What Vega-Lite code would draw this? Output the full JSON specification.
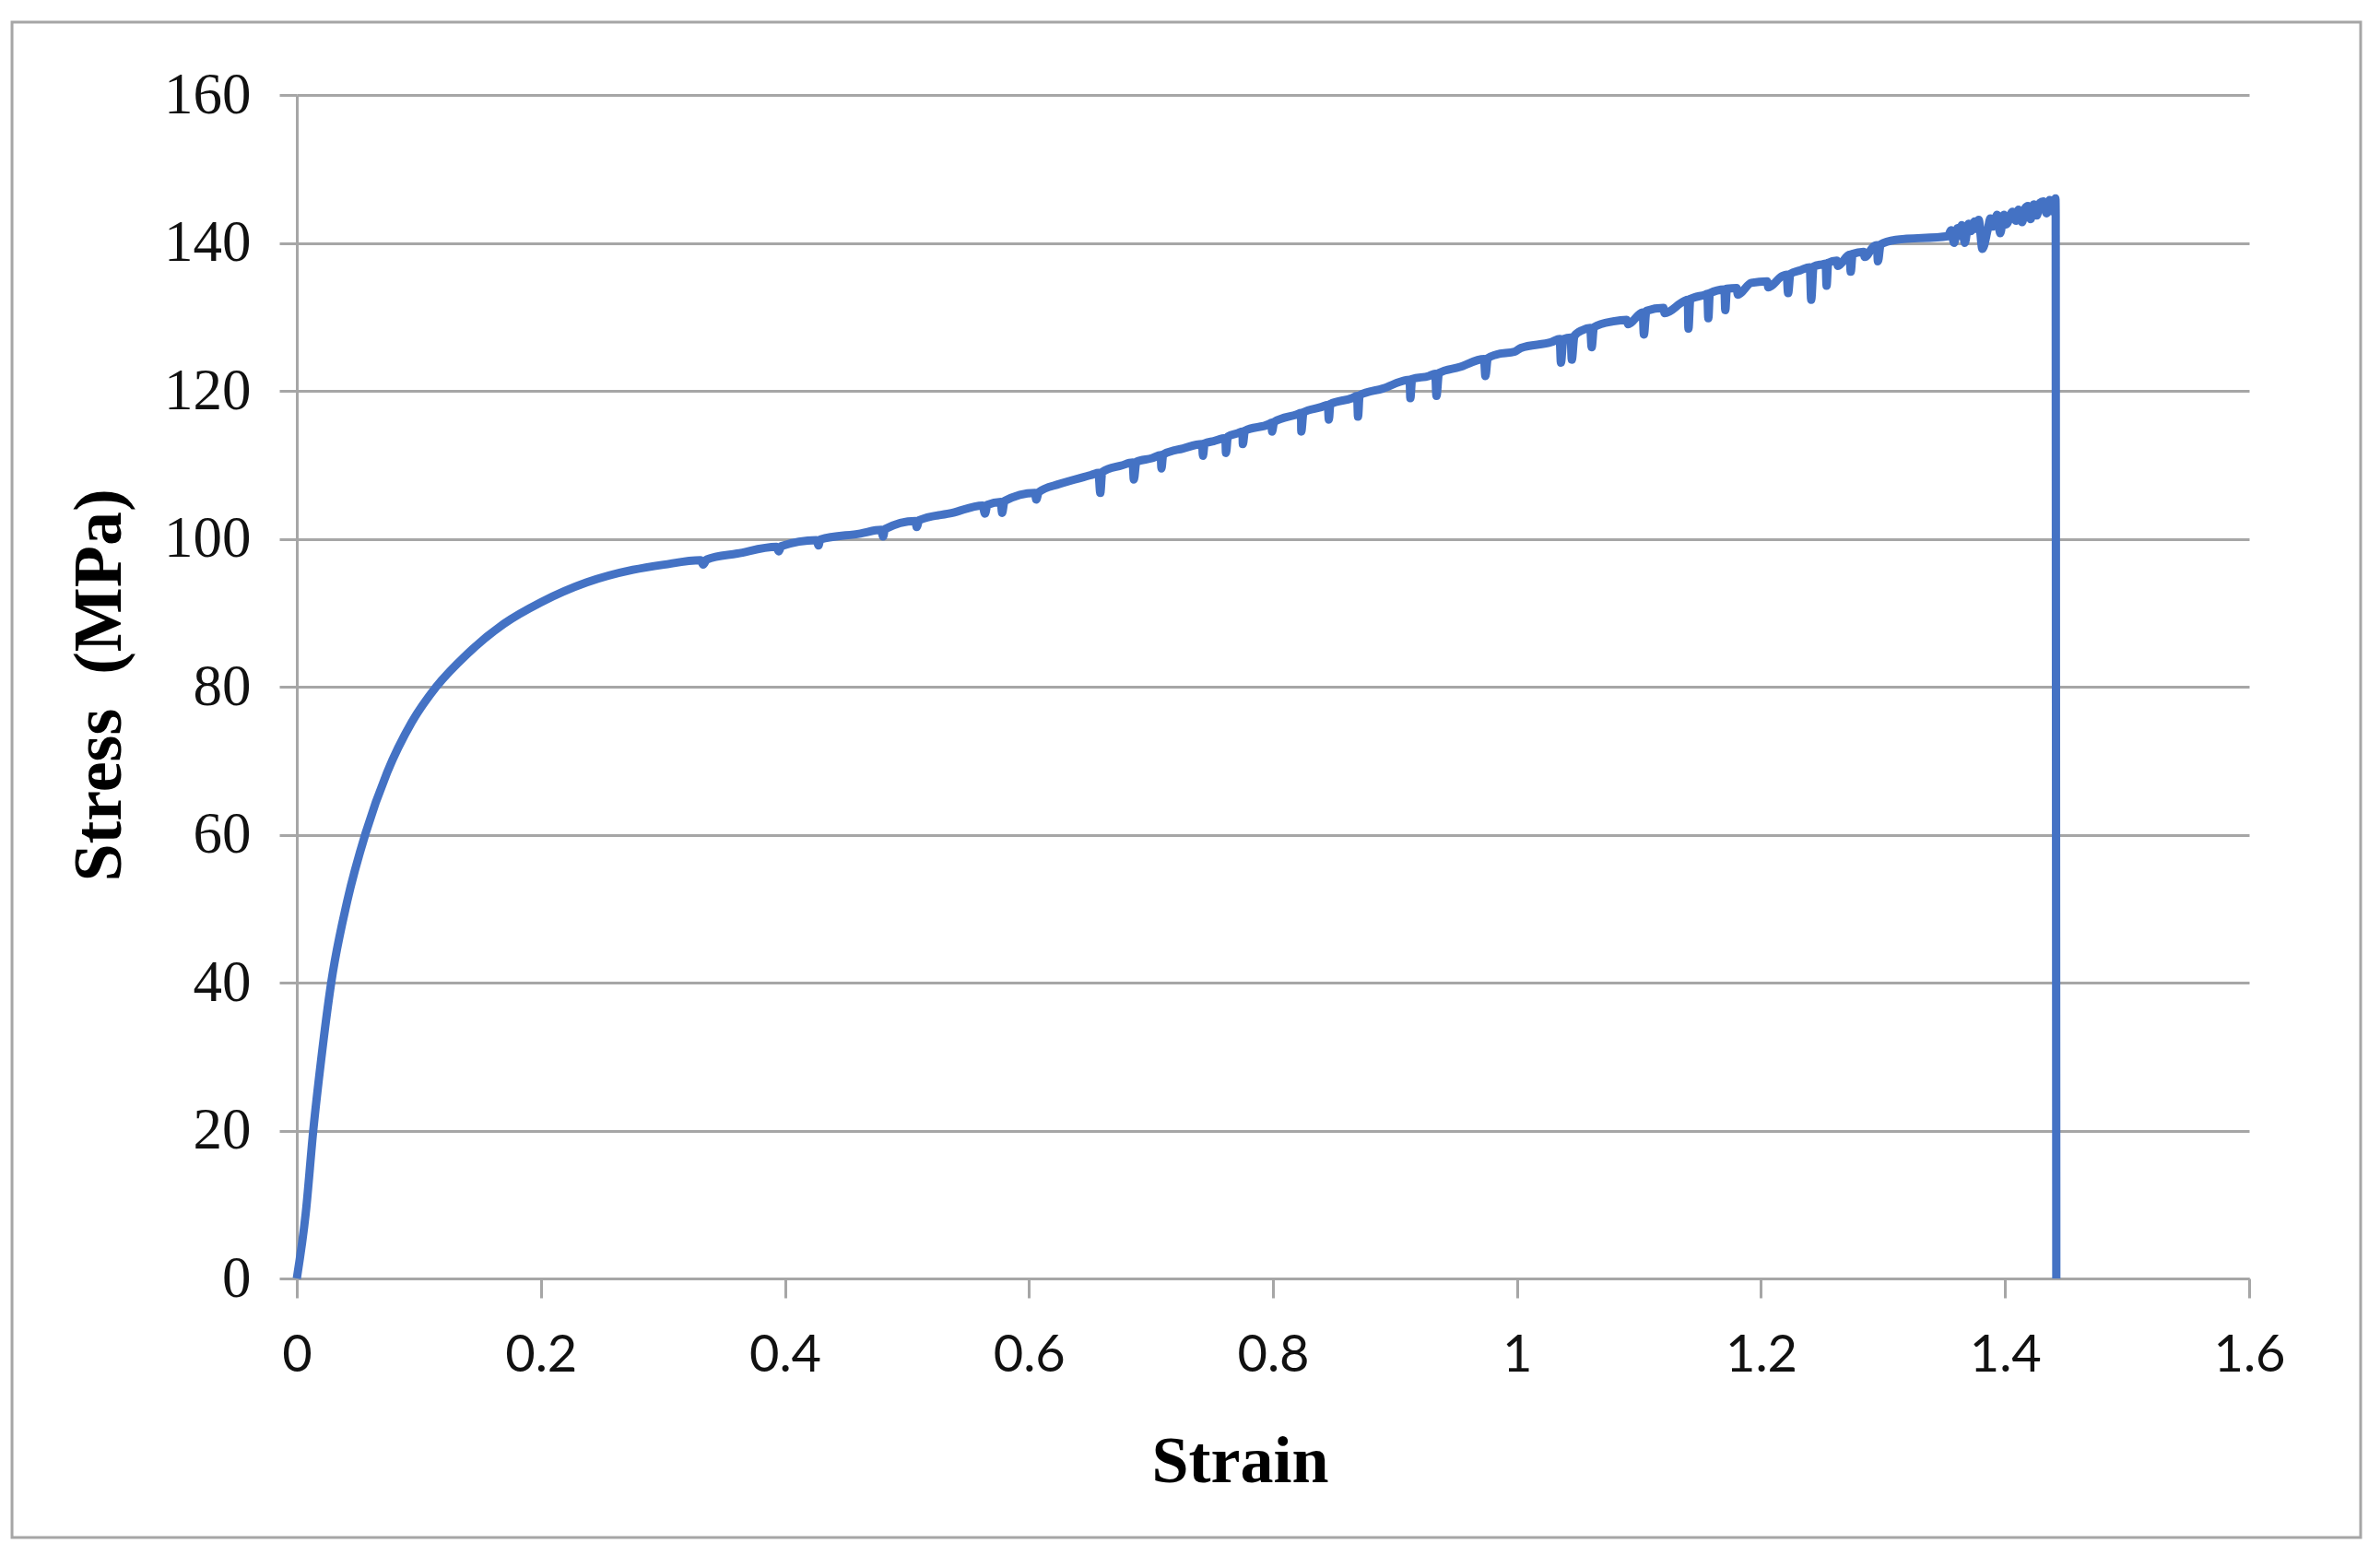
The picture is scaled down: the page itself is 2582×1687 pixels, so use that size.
{
  "$schema": "https://vega.github.io/schema/vega-lite/v6.json",
  "width": 2118,
  "height": 1284,
  "autosize": {"type": "none"},
  "padding": {"left": 322, "top": 103, "right": 142, "bottom": 300},
  "background": "white",
  "config": {"view": {"stroke": null}},
  "layer": [
    {
      "data": {"values": [
        {"strain": 0, "stress": 0}, {"strain": 0.0073, "stress": 8.8}, {"strain": 0.0136, "stress": 20.2}, {"strain": 0.0199, "stress": 29.5},
        {"strain": 0.0282, "stress": 40.0}, {"strain": 0.0413, "stress": 51.0}, {"strain": 0.0564, "stress": 60.2}, {"strain": 0.074, "stress": 68.4},
        {"strain": 0.0942, "stress": 75.2}, {"strain": 0.1143, "stress": 80.0}, {"strain": 0.1395, "stress": 84.4}, {"strain": 0.1697, "stress": 88.5},
        {"strain": 0.2, "stress": 91.4}, {"strain": 0.2377, "stress": 94.1}, {"strain": 0.2755, "stress": 95.8}, {"strain": 0.3007, "stress": 96.5},
        {"strain": 0.331, "stress": 97.1}, {"strain": 0.333, "stress": 96.5}, {"strain": 0.336, "stress": 97.2}, {"strain": 0.361, "stress": 98.0},
        {"strain": 0.393, "stress": 98.9}, {"strain": 0.395, "stress": 98.3}, {"strain": 0.397, "stress": 99.0}, {"strain": 0.426, "stress": 99.8},
        {"strain": 0.4275, "stress": 99.1}, {"strain": 0.429, "stress": 99.9}, {"strain": 0.4618, "stress": 100.7}, {"strain": 0.479, "stress": 101.2},
        {"strain": 0.4805, "stress": 100.3}, {"strain": 0.482, "stress": 101.3}, {"strain": 0.507, "stress": 102.4}, {"strain": 0.508, "stress": 101.6},
        {"strain": 0.51, "stress": 102.5}, {"strain": 0.5373, "stress": 103.5}, {"strain": 0.562, "stress": 104.5}, {"strain": 0.564, "stress": 103.4},
        {"strain": 0.566, "stress": 104.6}, {"strain": 0.577, "stress": 105.0}, {"strain": 0.578, "stress": 103.5}, {"strain": 0.58, "stress": 105.1},
        {"strain": 0.605, "stress": 106.2}, {"strain": 0.606, "stress": 105.3}, {"strain": 0.608, "stress": 106.3}, {"strain": 0.625, "stress": 107.4},
        {"strain": 0.6506, "stress": 108.6}, {"strain": 0.657, "stress": 108.9}, {"strain": 0.6585, "stress": 106.2}, {"strain": 0.66, "stress": 109.0},
        {"strain": 0.6758, "stress": 109.9}, {"strain": 0.685, "stress": 110.3}, {"strain": 0.686, "stress": 108.0}, {"strain": 0.688, "stress": 110.4},
        {"strain": 0.701, "stress": 110.9}, {"strain": 0.708, "stress": 111.3}, {"strain": 0.7086, "stress": 109.5}, {"strain": 0.71, "stress": 111.4},
        {"strain": 0.7262, "stress": 112.2}, {"strain": 0.742, "stress": 112.8}, {"strain": 0.7426, "stress": 111.2}, {"strain": 0.744, "stress": 112.9},
        {"strain": 0.7514, "stress": 113.2}, {"strain": 0.761, "stress": 113.6}, {"strain": 0.7615, "stress": 111.6}, {"strain": 0.763, "stress": 113.8},
        {"strain": 0.7716, "stress": 114.3}, {"strain": 0.775, "stress": 114.5}, {"strain": 0.7753, "stress": 112.8}, {"strain": 0.777, "stress": 114.6},
        {"strain": 0.7967, "stress": 115.5}, {"strain": 0.799, "stress": 115.7}, {"strain": 0.7992, "stress": 114.5}, {"strain": 0.801, "stress": 115.8},
        {"strain": 0.8194, "stress": 116.8}, {"strain": 0.823, "stress": 117.0}, {"strain": 0.8232, "stress": 114.5}, {"strain": 0.825, "stress": 117.1},
        {"strain": 0.8395, "stress": 117.8}, {"strain": 0.845, "stress": 118.1}, {"strain": 0.8458, "stress": 116.1}, {"strain": 0.847, "stress": 118.2},
        {"strain": 0.8647, "stress": 119.0}, {"strain": 0.869, "stress": 119.3}, {"strain": 0.8697, "stress": 116.5}, {"strain": 0.871, "stress": 119.4},
        {"strain": 0.8899, "stress": 120.3}, {"strain": 0.912, "stress": 121.5}, {"strain": 0.9126, "stress": 119.0}, {"strain": 0.914, "stress": 121.6},
        {"strain": 0.9277, "stress": 122.0}, {"strain": 0.933, "stress": 122.3}, {"strain": 0.934, "stress": 119.3}, {"strain": 0.936, "stress": 122.4},
        {"strain": 0.9528, "stress": 123.2}, {"strain": 0.973, "stress": 124.3}, {"strain": 0.9741, "stress": 122.0}, {"strain": 0.976, "stress": 124.4},
        {"strain": 0.983, "stress": 124.9}, {"strain": 0.9982, "stress": 125.3}, {"strain": 1.0032, "stress": 125.8}, {"strain": 1.0284, "stress": 126.6},
        {"strain": 1.035, "stress": 127.0}, {"strain": 1.036, "stress": 123.8}, {"strain": 1.038, "stress": 127.0}, {"strain": 1.044, "stress": 127.2},
        {"strain": 1.0449, "stress": 124.2}, {"strain": 1.047, "stress": 127.4}, {"strain": 1.0536, "stress": 128.2}, {"strain": 1.06, "stress": 128.5},
        {"strain": 1.0612, "stress": 125.9}, {"strain": 1.063, "stress": 128.6}, {"strain": 1.0788, "stress": 129.4}, {"strain": 1.09, "stress": 129.6},
        {"strain": 1.091, "stress": 129.0}, {"strain": 1.1014, "stress": 130.5},
        {"strain": 1.103, "stress": 130.6}, {"strain": 1.104, "stress": 127.6}, {"strain": 1.106, "stress": 130.8}, {"strain": 1.12, "stress": 131.2},
        {"strain": 1.121, "stress": 130.5}, {"strain": 1.1367, "stress": 132.1},
        {"strain": 1.14, "stress": 132.3}, {"strain": 1.1405, "stress": 128.4}, {"strain": 1.142, "stress": 132.4}, {"strain": 1.1543, "stress": 133.0},
        {"strain": 1.156, "stress": 133.1}, {"strain": 1.1568, "stress": 129.8}, {"strain": 1.158, "stress": 133.2}, {"strain": 1.17, "stress": 133.7},
        {"strain": 1.1707, "stress": 130.9}, {"strain": 1.172, "stress": 133.8}, {"strain": 1.18, "stress": 133.9}, {"strain": 1.181, "stress": 133.0},
        {"strain": 1.192, "stress": 134.6}, {"strain": 1.205, "stress": 134.8}, {"strain": 1.206, "stress": 134.0}, {"strain": 1.2172, "stress": 135.5},
        {"strain": 1.221, "stress": 135.7}, {"strain": 1.2222, "stress": 133.2}, {"strain": 1.224, "stress": 135.8}, {"strain": 1.2323, "stress": 136.3},
        {"strain": 1.24, "stress": 136.7}, {"strain": 1.2411, "stress": 132.3}, {"strain": 1.243, "stress": 136.8}, {"strain": 1.25, "stress": 137.1},
        {"strain": 1.253, "stress": 137.2}, {"strain": 1.2537, "stress": 134.2}, {"strain": 1.255, "stress": 137.3}, {"strain": 1.262, "stress": 137.6},
        {"strain": 1.263, "stress": 136.9}, {"strain": 1.2726, "stress": 138.4},
        {"strain": 1.2735, "stress": 136.1}, {"strain": 1.275, "stress": 138.5}, {"strain": 1.284, "stress": 138.8}, {"strain": 1.285, "stress": 138.1},
        {"strain": 1.2928, "stress": 139.6}, {"strain": 1.295, "stress": 139.7},
        {"strain": 1.2958, "stress": 137.5}, {"strain": 1.298, "stress": 139.8}, {"strain": 1.3104, "stress": 140.4}, {"strain": 1.3532, "stress": 140.9},
        {"strain": 1.3557, "stress": 141.7}, {"strain": 1.3582, "stress": 140.0}, {"strain": 1.361, "stress": 142.0}, {"strain": 1.3625, "stress": 141.0},
        {"strain": 1.3646, "stress": 142.4}, {"strain": 1.367, "stress": 140.0},
        {"strain": 1.37, "stress": 142.6}, {"strain": 1.372, "stress": 141.6}, {"strain": 1.375, "stress": 142.9}, {"strain": 1.3765, "stress": 141.9},
        {"strain": 1.3784, "stress": 143.1}, {"strain": 1.3814, "stress": 139.2}, {"strain": 1.3859, "stress": 141.9}, {"strain": 1.388, "stress": 143.3},
        {"strain": 1.39, "stress": 142.2}, {"strain": 1.3935, "stress": 143.8},
        {"strain": 1.396, "stress": 141.3}, {"strain": 1.399, "stress": 143.8}, {"strain": 1.401, "stress": 142.5}, {"strain": 1.4061, "stress": 144.2},
        {"strain": 1.409, "stress": 143.0}, {"strain": 1.411, "stress": 144.5}, {"strain": 1.414, "stress": 142.8}, {"strain": 1.4165, "stress": 144.7},
        {"strain": 1.4187, "stress": 145.0},
        {"strain": 1.421, "stress": 143.2}, {"strain": 1.4235, "stress": 145.2}, {"strain": 1.426, "stress": 143.7}, {"strain": 1.4285, "stress": 145.4},
        {"strain": 1.4313, "stress": 145.6}, {"strain": 1.434, "stress": 144.0}, {"strain": 1.4365, "stress": 145.8}, {"strain": 1.4385, "stress": 144.3},
        {"strain": 1.4413, "stress": 146.0},
        {"strain": 1.4415, "stress": 143.5}, {"strain": 1.442, "stress": 0}
      ]},
      "mark": {"type": "line", "color": "#4472C4", "strokeWidth": 9, "strokeJoin": "round", "interpolate": "monotone"},
      "encoding": {
        "x": {
          "field": "strain", "type": "quantitative",
          "scale": {"domain": [0, 1.6], "nice": false},
          "axis": {
            "title": "Strain",
            "values": [0, 0.2, 0.4, 0.6, 0.8, 1, 1.2, 1.4, 1.6],
            "format": "~g",
            "grid": false,
            "domainColor": "#A6A6A6", "domainWidth": 3,
            "tickColor": "#A6A6A6", "tickWidth": 3, "tickSize": 21,
            "labelFont": "Lato", "labelFontSize": 56, "labelColor": "#111111",
            "labelPadding": 35, "labelFlush": false, "labelOverlap": false,
            "titleFont": "Liberation Serif", "titleFontWeight": "bold", "titleFontSize": 72, "titleColor": "#000000",
            "titleX": 1023, "titleY": 220, "titleBaseline": "alphabetic", "titleAlign": "center"
          }
        },
        "y": {
          "field": "stress", "type": "quantitative",
          "scale": {"domain": [0, 160], "nice": false},
          "axis": {
            "title": "Stress\u00a0 (MPa)",
            "values": [0, 20, 40, 60, 80, 100, 120, 140, 160],
            "grid": true, "gridColor": "#A6A6A6", "gridWidth": 3,
            "domainColor": "#A6A6A6", "domainWidth": 3,
            "tickColor": "#A6A6A6", "tickWidth": 3, "tickSize": 19,
            "labelFont": "Liberation Serif", "labelFontSize": 63, "labelColor": "#111111",
            "labelPadding": 31, "labelOverlap": false, "labelFlush": false,
            "titleFont": "Liberation Serif", "titleFontWeight": "bold", "titleFontSize": 74, "titleColor": "#000000",
            "titleX": -192, "titleY": 640, "titleAngle": -90, "titleBaseline": "alphabetic", "titleAlign": "center"
          }
        }
      }
    },
    {
      "data": {"values": [{"frame": "outer"}]},
      "mark": {"type": "rect", "fill": "transparent", "stroke": "#A6A6A6", "strokeWidth": 3, "clip": false},
      "encoding": {
        "x": {"datum": -0.2334, "type": "quantitative", "scale": {"domain": [0, 1.6], "nice": false}},
        "x2": {"datum": 1.6914},
        "y": {"datum": 169.84, "type": "quantitative", "scale": {"domain": [0, 160], "nice": false}},
        "y2": {"datum": -35.02}
      }
    }
  ]
}
